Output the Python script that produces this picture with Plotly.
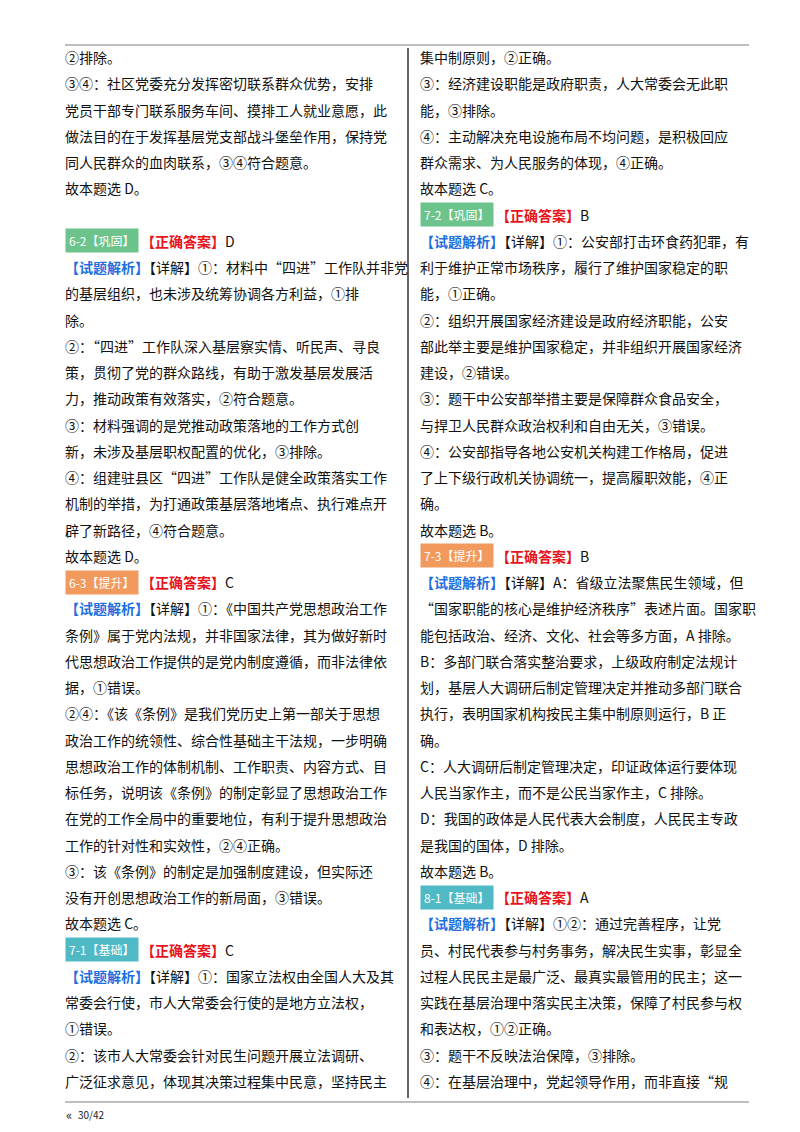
import plotly.graph_objects as go

# page text, one entry per printed line; "@n" marks the n-th answer badge
left_lines = [
    "②排除。",
    "③④：社区党委充分发挥密切联系群众优势，安排",
    "党员干部专门联系服务车间、摸排工人就业意愿，此",
    "做法目的在于发挥基层党支部战斗堡垒作用，保持党",
    "同人民群众的血肉联系，③④符合题意。",
    "故本题选 D。",
    "",
    "@0",
    "$【详解】①：材料中“四进”工作队并非党",
    "的基层组织，也未涉及统筹协调各方利益，①排",
    "除。",
    "②：“四进”工作队深入基层察实情、听民声、寻良",
    "策，贯彻了党的群众路线，有助于激发基层发展活",
    "力，推动政策有效落实，②符合题意。",
    "③：材料强调的是党推动政策落地的工作方式创",
    "新，未涉及基层职权配置的优化，③排除。",
    "④：组建驻县区“四进”工作队是健全政策落实工作",
    "机制的举措，为打通政策基层落地堵点、执行难点开",
    "辟了新路径，④符合题意。",
    "故本题选 D。",
    "@1",
    "$【详解】①：《中国共产党思想政治工作",
    "条例》属于党内法规，并非国家法律，其为做好新时",
    "代思想政治工作提供的是党内制度遵循，而非法律依",
    "据，①错误。",
    "②④：《该《条例》是我们党历史上第一部关于思想",
    "政治工作的统领性、综合性基础主干法规，一步明确",
    "思想政治工作的体制机制、工作职责、内容方式、目",
    "标任务，说明该《条例》的制定彰显了思想政治工作",
    "在党的工作全局中的重要地位，有利于提升思想政治",
    "工作的针对性和实效性，②④正确。",
    "③：该《条例》的制定是加强制度建设，但实际还",
    "没有开创思想政治工作的新局面，③错误。",
    "故本题选 C。",
    "@2",
    "$【详解】①：国家立法权由全国人大及其",
    "常委会行使，市人大常委会行使的是地方立法权，",
    "①错误。",
    "②：该市人大常委会针对民生问题开展立法调研、",
    "广泛征求意见，体现其决策过程集中民意，坚持民主",
]

right_lines = [
    "集中制原则，②正确。",
    "③：经济建设职能是政府职责，人大常委会无此职",
    "能，③排除。",
    "④：主动解决充电设施布局不均问题，是积极回应",
    "群众需求、为人民服务的体现，④正确。",
    "故本题选 C。",
    "@3",
    "$【详解】①：公安部打击环食药犯罪，有",
    "利于维护正常市场秩序，履行了维护国家稳定的职",
    "能，①正确。",
    "②：组织开展国家经济建设是政府经济职能，公安",
    "部此举主要是维护国家稳定，并非组织开展国家经济",
    "建设，②错误。",
    "③：题干中公安部举措主要是保障群众食品安全，",
    "与捍卫人民群众政治权利和自由无关，③错误。",
    "④：公安部指导各地公安机关构建工作格局，促进",
    "了上下级行政机关协调统一，提高履职效能，④正",
    "确。",
    "故本题选 B。",
    "@4",
    "$【详解】A：省级立法聚焦民生领域，但",
    "“国家职能的核心是维护经济秩序”表述片面。国家职",
    "能包括政治、经济、文化、社会等多方面，A 排除。",
    "B：多部门联合落实整治要求，上级政府制定法规计",
    "划，基层人大调研后制定管理决定并推动多部门联合",
    "执行，表明国家机构按民主集中制原则运行，B 正",
    "确。",
    "C：人大调研后制定管理决定，印证政体运行要体现",
    "人民当家作主，而不是公民当家作主，C 排除。",
    "D：我国的政体是人民代表大会制度，人民民主专政",
    "是我国的国体，D 排除。",
    "故本题选 B。",
    "@5",
    "$【详解】①②：通过完善程序，让党",
    "员、村民代表参与村务事务，解决民生实事，彰显全",
    "过程人民民主是最广泛、最真实最管用的民主；这一",
    "实践在基层治理中落实民主决策，保障了村民参与权",
    "和表达权，①②正确。",
    "③：题干不反映法治保障，③排除。",
    "④：在基层治理中，党起领导作用，而非直接“规",
]

badge_labels = ["6-2【巩固】", "6-3【提升】", "7-1【基础】", "7-2【巩固】", "7-3【提升】", "8-1【基础】"]
badge_answers = ["D", "C", "C", "B", "B", "A"]
level_colors = {"巩固": "#6cc48c", "提升": "#f29a5e", "基础": "#4fb9c6"}

page_number = "30/42"

FONT = "Noto Sans CJK SC"
TOP, STEP = 49, 26.25

fig = go.Figure()
ann = []


def add_column(lines, x0):
    for i, t in enumerate(lines):
        y = TOP + i * STEP
        if not t:
            continue
        if t.startswith("@"):
            k = int(t[1:])
            lab = badge_labels[k]
            col = next(c for key, c in level_colors.items() if key in lab)
            ann.append(dict(x=x0 + 2, y=y, text=lab, xanchor="left", yanchor="middle",
                            showarrow=False, bgcolor=col, borderpad=3,
                            font=dict(family=FONT, size=12, color="white")))
            ann.append(dict(x=x0 + 76, y=y, xanchor="left", yanchor="middle", showarrow=False,
                            text="<span style='color:#e8141b'><b>【正确答案】</b></span>" + badge_answers[k],
                            font=dict(family=FONT, size=14, color="#111")))
            continue
        if t.startswith("$"):
            t = "<span style='color:#1f6fe0'><b>【试题解析】</b></span>" + t[1:]
        ann.append(dict(x=x0, y=y, text=t, xanchor="left", yanchor="middle", showarrow=False,
                        font=dict(family=FONT, size=14, color="#111")))


add_column(left_lines, 55)
add_column(right_lines, 410)

ann.append(dict(x=56, y=1106, text="«", xanchor="left", yanchor="middle", showarrow=False,
                font=dict(family=FONT, size=13, color="#222")))
ann.append(dict(x=68, y=1106, text=page_number, xanchor="left", yanchor="middle", showarrow=False,
                font=dict(family=FONT, size=10, color="#222")))

shapes = [
    dict(type="line", x0=57, x1=741, y0=37, y1=37, line=dict(color="#aaaaaa", width=1.5)),
    dict(type="line", x0=57, x1=741, y0=1094, y1=1094, line=dict(color="#aaaaaa", width=1.5)),
    dict(type="line", x0=400, x1=400, y0=40, y1=1090, line=dict(color="#333333", width=1.5)),
]

fig.update_layout(
    width=800, height=1132, margin=dict(l=0, r=0, t=0, b=0),
    paper_bgcolor="white", plot_bgcolor="white",
    xaxis=dict(range=[0, 800], visible=False, fixedrange=True),
    yaxis=dict(range=[1132, 0], visible=False, fixedrange=True),
    annotations=ann, shapes=shapes, showlegend=False,
)

fig.write_html("out.html")
